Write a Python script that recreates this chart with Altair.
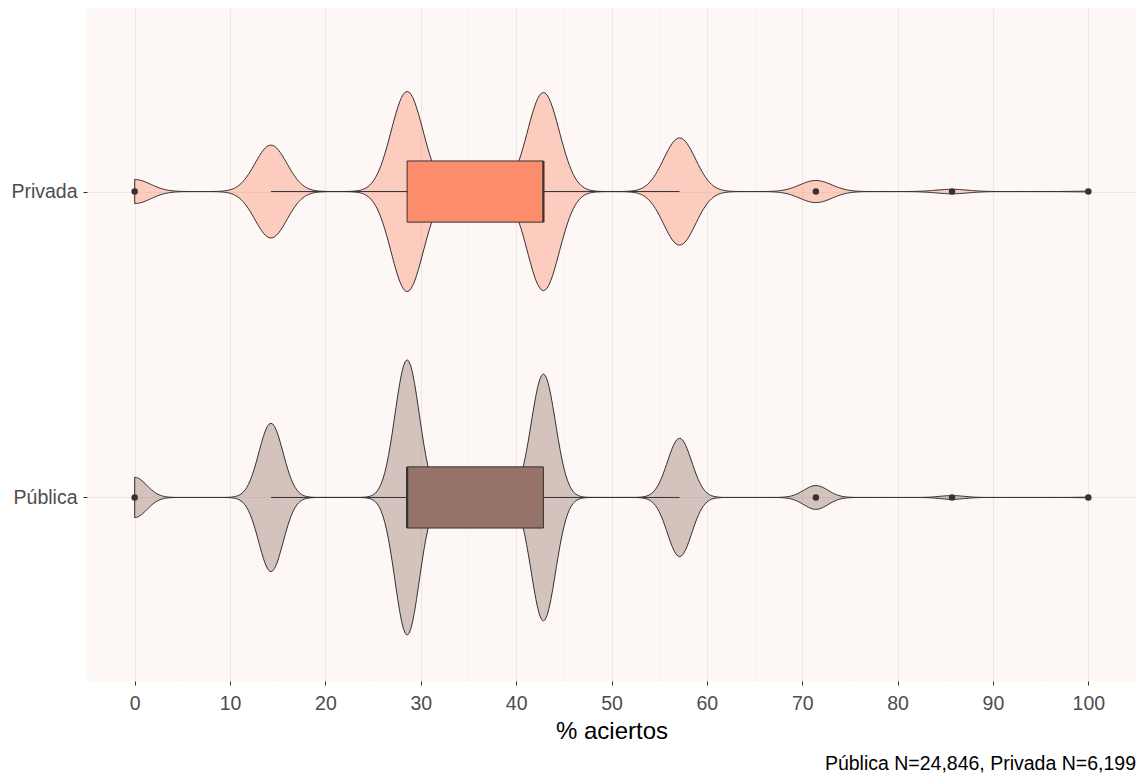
import altair as alt
import numpy as np
import pandas as pd

# ---- data ----
groups = ["Pública", "Privada"]
group_pos = [1, 2]
scores = [0, 14.29, 28.57, 42.86, 57.14, 71.43, 85.71, 100]
counts_publica = [1168, 4298, 7976, 7156, 3431, 690, 110, 17]
counts_privada = [229, 886, 1909, 1891, 1023, 211, 43, 7]
group_colors = ["#967369", "#FB8D6C"]
x_ticks = list(range(0, 101, 5))
x_title = "% aciertos"
caption = "Pública N=24,846, Privada N=6,199"

# ---- statistics (violin density like ggplot: bw.nrd0, trim, scale="area") ----
grid = np.linspace(0, 100, 512)
sc = np.array(scores, dtype=float)
dens, stats_rows, out_rows = {}, [], []
for g, pos, cnt in zip(groups, group_pos, [counts_publica, counts_privada]):
    cnt = np.array(cnt)
    data = np.repeat(sc, cnt)
    n = len(data)
    q1, med, q3 = np.percentile(data, [25, 50, 75])
    iqr = q3 - q1
    sd = data.std(ddof=1)
    bw = 0.9 * min(sd, iqr / 1.34) * n ** -0.2
    w = cnt / n
    d = (w[None, :] * np.exp(-0.5 * ((grid[:, None] - sc[None, :]) / bw) ** 2)).sum(1) / (bw * np.sqrt(2 * np.pi))
    dens[g] = d
    lo_lim, hi_lim = q1 - 1.5 * iqr, q3 + 1.5 * iqr
    inside = data[(data >= lo_lim) & (data <= hi_lim)]
    stats_rows.append(dict(grp=g, pos=pos, q1=q1, med=med, q3=q3,
                           wlo=inside.min(), whi=inside.max(),
                           blo=pos - 0.1, bhi=pos + 0.1))
    for v in np.unique(data[(data < lo_lim) | (data > hi_lim)]):
        out_rows.append(dict(grp=g, pos=pos, x=v))

maxd = max(d.max() for d in dens.values())
vrows = []
for g, pos in zip(groups, group_pos):
    hw = 0.45 * dens[g] / maxd
    for xv, h in zip(grid, hw):
        vrows.append(dict(grp=g, x=xv, lo=pos - h, hi=pos + h))
vdf = pd.DataFrame(vrows)
sdf = pd.DataFrame(stats_rows)
odf = pd.DataFrame(out_rows)

# ---- scales / axes ----
FONT = "Liberation Sans"
xs = alt.Scale(domain=[-5, 105], nice=False, zero=False)
ys = alt.Scale(domain=[0.4, 2.6], nice=False, zero=False)
fill_scale = alt.Scale(domain=groups, range=group_colors)
X_AX = alt.Axis(
    values=x_ticks,
    labelExpr="datum.value % 10 === 0 ? datum.label : ''",
    title=x_title,
    grid=True,
    gridColor={"condition": {"test": "datum.value % 10 === 0", "value": "#EDE7E6"}, "value": "#F7F1F0"},
    gridWidth={"condition": {"test": "datum.value % 10 === 0", "value": 1.1}, "value": 0.6},
    tickOpacity={"condition": {"test": "datum.value % 10 === 0", "value": 1}, "value": 0},
    tickColor="#333333", tickSize=4, tickWidth=1,
    domain=False,
    labelColor="#4D4D4D", labelFontSize=19.5, labelFont=FONT, labelPadding=9,
    titleColor="#000000", titleFontSize=24, titleFont=FONT, titleFontWeight="normal", titlePadding=7,
)
label_expr = "datum.value === %d ? '%s' : '%s'" % (group_pos[1], groups[1], groups[0])
Y_AX = alt.Axis(
    values=group_pos, labelExpr=label_expr, title=None,
    grid=True, gridColor="#EDE7E6", gridWidth=1.1,
    tickColor="#333333", tickSize=4, tickWidth=1, domain=False,
    labelColor="#4D4D4D", labelFontSize=19.5, labelFont=FONT, labelPadding=6,
)

violin = alt.Chart(vdf).mark_area(
    fillOpacity=0.4, stroke="#333333", strokeWidth=1, strokeOpacity=1
).encode(
    x=alt.X("x:Q", scale=xs, axis=X_AX),
    y=alt.Y("lo:Q", scale=ys, axis=Y_AX, stack=None),
    y2="hi:Q",
    fill=alt.Fill("grp:N", scale=fill_scale, legend=None),
    detail="grp:N",
)

whisk = alt.Chart(sdf).mark_rule(color="#333333", strokeWidth=1).encode(
    x=alt.X("wlo:Q", scale=xs, axis=X_AX),
    x2="whi:Q",
    y=alt.Y("pos:Q", scale=ys, axis=Y_AX),
)

box = alt.Chart(sdf).mark_rect(stroke="#333333", strokeWidth=1).encode(
    x=alt.X("q1:Q", scale=xs, axis=X_AX),
    x2="q3:Q",
    y=alt.Y("blo:Q", scale=ys, axis=Y_AX),
    y2="bhi:Q",
    fill=alt.Fill("grp:N", scale=fill_scale, legend=None),
)

median = alt.Chart(sdf).mark_rule(color="#333333", strokeWidth=2.2).encode(
    x=alt.X("med:Q", scale=xs, axis=X_AX),
    y=alt.Y("blo:Q", scale=ys, axis=Y_AX),
    y2="bhi:Q",
)

outl = alt.Chart(odf).mark_circle(size=42, color="#333333", opacity=1).encode(
    x=alt.X("x:Q", scale=xs, axis=X_AX),
    y=alt.Y("pos:Q", scale=ys, axis=Y_AX),
)

chart = alt.layer(violin, whisk, box, median, outl).properties(
    width=1049,
    height=673,
    autosize=alt.AutoSizeParams(type="none"),
    padding={"left": 79, "top": 0, "right": 0, "bottom": 96},
    background="white",
    title=alt.TitleParams(caption, orient="bottom", anchor="end", fontSize=19.5,
                          font=FONT, fontWeight="normal", color="#000000", offset=11),
).configure(font=FONT).configure_view(fill="#FDF7F6", strokeWidth=0, stroke="transparent")

chart.save("out.html", embed_options={"renderer": "svg", "actions": False})
